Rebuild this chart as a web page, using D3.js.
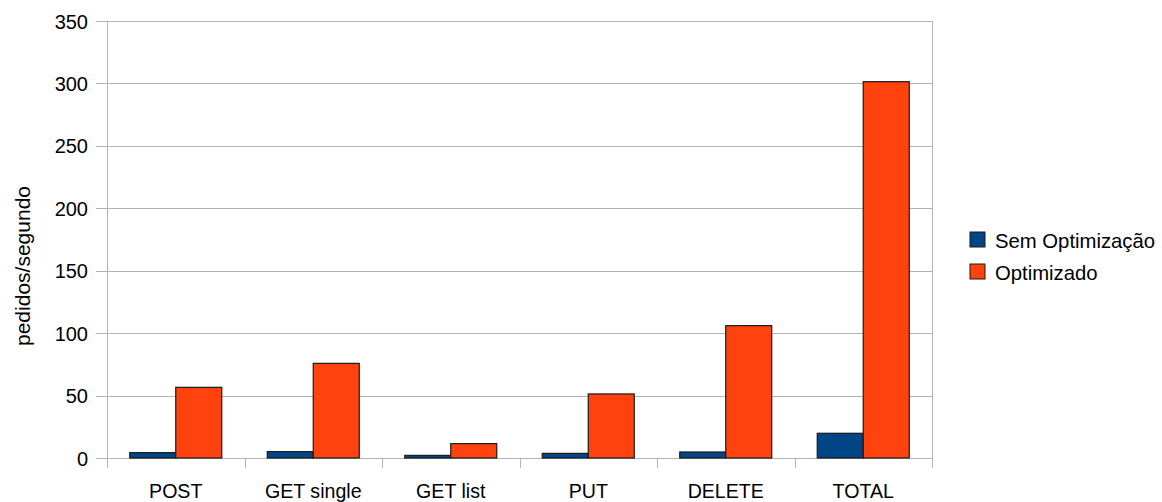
<!DOCTYPE html>
<html>
<head>
<meta charset="utf-8">
<script src="https://cdn.jsdelivr.net/npm/d3@7/dist/d3.min.js"></script>
<style>
  html, body { margin: 0; padding: 0; background: #fff; }
  svg text { font-family: "Liberation Sans", Arial, sans-serif; fill: #000; }
</style>
</head>
<body>
<svg id="chart" width="1162" height="502"></svg>
<script>
// Requests per second by operation, before and after optimisation
const categories = ["POST", "GET single", "GET list", "PUT", "DELETE", "TOTAL"];
const seriesNames = ["Sem Optimização", "Optimizado"];
const semOptimizacao = [4.3, 5.1, 2.1, 3.7, 4.8, 19.8];
const optimizado = [56.6, 75.8, 11.5, 51.3, 106, 301.4];
const yTicks = [0, 50, 100, 150, 200, 250, 300, 350];
const colors = ["#004586", "#ff420e"];

const series = [semOptimizacao, optimizado];

const svg = d3.select("#chart");
const plotLeft = 107, plotRight = 932, plotTop = 21, plotBottom = 458;

const x = d3.scaleBand().domain(categories).range([plotLeft, plotRight]).paddingInner(0).paddingOuter(0);
const inner = d3.scaleBand().domain(d3.range(series.length)).range([0, x.bandwidth()]).paddingInner(0).paddingOuter(0.4946);
const y = d3.scaleLinear().domain([0, 350]).range([plotBottom, plotTop]);

// horizontal gridlines with outward ticks
const grid = svg.append("g");
grid.selectAll("line").data(yTicks).join("line")
  .attr("x1", plotLeft - 11).attr("x2", plotRight)
  .attr("y1", d => Math.round(y(d)) + 0.5).attr("y2", d => Math.round(y(d)) + 0.5)
  .attr("stroke", "#b3b3b3").attr("stroke-width", 1);

// y tick labels
svg.append("g").selectAll("text").data(yTicks).join("text")
  .attr("x", 88).attr("y", d => y(d) + 7.5)
  .attr("text-anchor", "end").attr("font-size", 20)
  .text(d => d);

// vertical axis line and right border
svg.append("line").attr("x1", plotLeft + 0.5).attr("x2", plotLeft + 0.5).attr("y1", plotTop).attr("y2", plotBottom + 10)
  .attr("stroke", "#b3b3b3");
svg.append("line").attr("x1", plotRight + 0.5).attr("x2", plotRight + 0.5).attr("y1", plotTop).attr("y2", plotBottom + 10)
  .attr("stroke", "#b3b3b3");

// category separators below the baseline
const seps = categories.slice(1).map(c => x(c));
svg.append("g").selectAll("line").data(seps).join("line")
  .attr("x1", d => Math.round(d) + 0.5).attr("x2", d => Math.round(d) + 0.5)
  .attr("y1", plotBottom).attr("y2", plotBottom + 10)
  .attr("stroke", "#b3b3b3");

// bars
const groups = svg.append("g").selectAll("g").data(categories).join("g")
  .attr("transform", c => `translate(${x(c)},0)`);
groups.selectAll("rect")
  .data((c, i) => series.map((s, k) => ({ k, v: s[i] })))
  .join("rect")
  .attr("x", d => inner(d.k))
  .attr("width", inner.bandwidth())
  .attr("y", d => y(d.v))
  .attr("height", d => plotBottom - y(d.v))
  .attr("fill", d => colors[d.k])
  .attr("stroke", "#1a1a1a").attr("stroke-width", 1.2);

// category labels
svg.append("g").selectAll("text").data(categories).join("text")
  .attr("x", c => x(c) + x.bandwidth() / 2).attr("y", 498)
  .attr("text-anchor", "middle").attr("font-size", 19.6)
  .text(c => c);

// y axis title
svg.append("text")
  .attr("transform", "translate(30,266) rotate(-90)")
  .attr("text-anchor", "middle").attr("font-size", 21)
  .text("pedidos/segundo");

// legend
const legend = svg.append("g").selectAll("g").data(seriesNames).join("g")
  .attr("transform", (d, i) => `translate(970,${232 + i * 32})`);
legend.append("rect")
  .attr("width", 15).attr("height", 15)
  .attr("fill", (d, i) => colors[i])
  .attr("stroke", "#1a1a1a").attr("stroke-width", 1);
legend.append("text")
  .attr("x", 25).attr("y", 15.5).attr("font-size", 20.3)
  .text(d => d);
</script>
</body>
</html>
